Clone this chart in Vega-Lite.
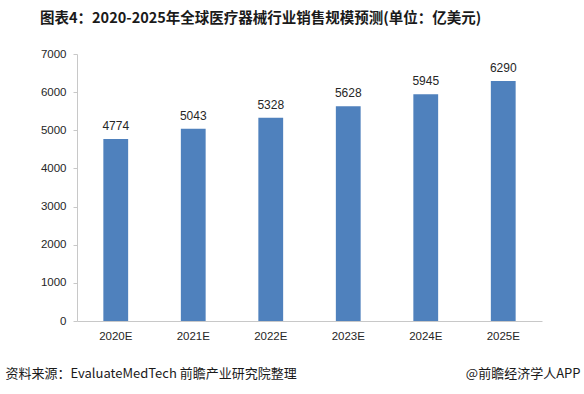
{
  "$schema": "https://vega.github.io/schema/vega-lite/v6.json",
  "width": 465,
  "height": 267,
  "autosize": {"type": "none"},
  "padding": {"left": 77, "top": 54, "right": 42, "bottom": 73},
  "background": "white",
  "title": {
    "text": "图表4：2020-2025年全球医疗器械行业销售规模预测(单位：亿美元)",
    "anchor": "start",
    "frame": "group",
    "dx": -37,
    "offset": 22,
    "font": "Noto Sans CJK SC",
    "fontSize": 14.5,
    "fontWeight": "bold",
    "color": "#1a1a1a"
  },
  "data": {
    "values": [
      {"year": "2020E", "value": 4774},
      {"year": "2021E", "value": 5043},
      {"year": "2022E", "value": 5328},
      {"year": "2023E", "value": 5628},
      {"year": "2024E", "value": 5945},
      {"year": "2025E", "value": 6290}
    ]
  },
  "config": {
    "view": {"stroke": null},
    "font": "Liberation Sans"
  },
  "encoding": {
    "x": {
      "field": "year",
      "type": "nominal",
      "sort": null,
      "scale": {"paddingInner": 0.68, "paddingOuter": 0.34},
      "axis": {
        "title": "@前瞻经济学人APP",
        "titleFont": "Noto Sans CJK SC",
        "titleFontSize": 13,
        "titleFontWeight": "normal",
        "titleColor": "#1a1a1a",
        "titleAnchor": "end",
        "titleAlign": "right",
        "titleBaseline": "middle",
        "titleX": 503,
        "titleY": 52,
        "labelAngle": 0,
        "labelFontSize": 11.5,
        "labelColor": "#262626",
        "labelPadding": 9,
        "ticks": false,
        "domainColor": "#c8c8c8",
        "grid": false
      }
    },
    "y": {
      "field": "value",
      "type": "quantitative",
      "scale": {"domain": [0, 7000]},
      "axis": {
        "values": [0, 1000, 2000, 3000, 4000, 5000, 6000, 7000],
        "format": "d",
        "labelOverlap": false,
        "title": "资料来源：EvaluateMedTech 前瞻产业研究院整理",
        "titleFont": "Noto Sans CJK SC",
        "titleFontSize": 13,
        "titleFontWeight": "normal",
        "titleColor": "#1a1a1a",
        "titleAngle": 0,
        "titleAlign": "left",
        "titleBaseline": "middle",
        "titleX": -72,
        "titleY": 319,
        "labelFontSize": 11.5,
        "labelColor": "#262626",
        "labelPadding": 7,
        "tickSize": 4,
        "tickColor": "#c8c8c8",
        "domainColor": "#c8c8c8",
        "grid": false
      }
    }
  },
  "layer": [
    {
      "mark": {"type": "bar", "color": "#4F81BD"}
    },
    {
      "mark": {"type": "text", "baseline": "bottom", "dy": -6, "fontSize": 12, "color": "#262626"},
      "encoding": {
        "text": {"field": "value", "type": "quantitative", "format": "d"}
      }
    }
  ]
}
